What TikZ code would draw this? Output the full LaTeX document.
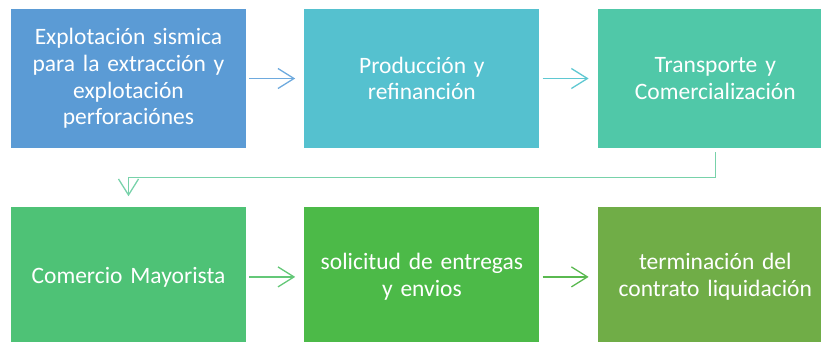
\documentclass[tikz,border=0pt]{standalone}
\usepackage{fontspec}
\setmainfont{Carlito}
\usetikzlibrary{arrows.meta, positioning, calc}
\definecolor{azulEtapa}{RGB}{91,155,213}
\definecolor{cianEtapa}{RGB}{85,193,207}
\definecolor{turquesaEtapa}{RGB}{80,200,168}
\definecolor{verdeEtapa}{RGB}{78,194,118}
\definecolor{pastoEtapa}{RGB}{76,186,72}
\definecolor{olivaEtapa}{RGB}{112,173,71}
\definecolor{lineaUno}{RGB}{110,170,222}
\definecolor{lineaDos}{RGB}{95,200,210}
\definecolor{lineaVuelta}{RGB}{120,210,170}
\definecolor{lineaTres}{RGB}{100,200,120}
\definecolor{lineaCuatro}{RGB}{90,185,80}

\begin{document}
\begin{tikzpicture}[
        x=1pt, y=1pt,
        node distance=58pt,
        e/.style={fill=#1, draw=none, minimum width=235pt, minimum height=139pt,
            text width=225pt, align=center, text=white,
            font=\fontsize{23.5}{26.7}\selectfont},
        flecha/.style={-{Straight Barb[length=16pt, width=20pt]}, line width=1.3pt, draw=#1,
            shorten <=3pt, shorten >=9pt}
    ]
        \useasboundingbox (0,0) rectangle (821,-341);
        \node[e=azulEtapa] (explora) at (128.5,-78.5)
            {Explotación sismica\\para la extracción y\\explotación\\perforaciónes};
        \node[e=cianEtapa, right=of explora] (produc) {Producción y\\refinanción};
        \node[e=turquesaEtapa, right=of produc] (transp) {Transporte y\\Comercialización};
        \node[e=verdeEtapa, below=59pt of explora] (mayor) {Comercio Mayorista};
        \node[e=pastoEtapa, right=of mayor] (solic) {solicitud de entregas\\y envios};
        \node[e=olivaEtapa, right=of solic] (termin) {terminación del\\contrato liquidación};

        \coordinate (vuelta) at ($(transp.south)!0.5!(mayor.north)$);
        \draw[flecha=lineaUno] (explora) -- (produc);
        \draw[flecha=lineaDos] (produc) -- (transp);
        \draw[flecha=lineaVuelta, shorten <=4pt, shorten >=11pt]
            (transp.south) |- (vuelta -| mayor.north) -- (mayor.north);
        \draw[flecha=lineaTres] (mayor) -- (solic);
        \draw[flecha=lineaCuatro] (solic) -- (termin);
    \end{tikzpicture}
\end{document}
